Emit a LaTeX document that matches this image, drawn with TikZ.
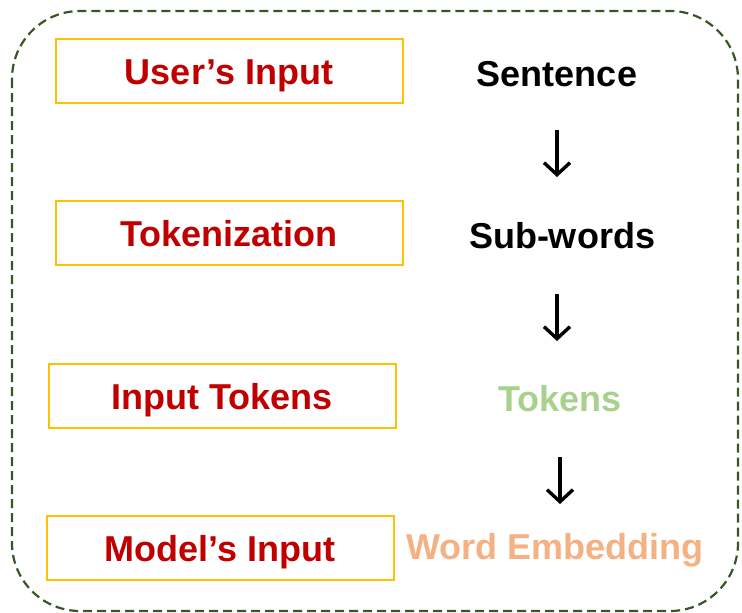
\documentclass[tikz,border=0pt]{standalone}
\usepackage{fontspec}
\setmainfont{Liberation Sans}
\usetikzlibrary{arrows.meta}
\definecolor{frameGreen}{HTML}{385723}
\definecolor{boxGold}{HTML}{FFC000}
\definecolor{labelRed}{HTML}{C00000}
\definecolor{tokGreen}{HTML}{A9D18E}
\definecolor{embOrange}{HTML}{F4B183}
\tikzset{
  stagebox/.style={draw=boxGold, line width=2pt, minimum width=347pt, minimum height=64pt,
    inner sep=0pt, text height=26pt, text depth=0pt, text=labelRed,
    font=\fontsize{36}{40}\selectfont\bfseries},
  outlabel/.style={inner sep=0pt, text height=26pt, text depth=0pt,
    font=\fontsize{36}{40}\selectfont\bfseries},
  flowarrow/.style={line width=3.6pt, -{Straight Barb[length=12pt, width=26pt, line width=3.4pt]}},
}
\begin{document}
\begin{tikzpicture}[x=1pt, y=-1pt]
\useasboundingbox (0,0) rectangle (742,613);
% outer dashed frame
\draw[frameGreen, line width=2.2pt, dash pattern=on 9pt off 5pt, rounded corners=68pt]
  (12,11) rectangle (738,611);

% left column: stages
\node[stagebox] (user)  at (229,71)  {User’s Input};
\node[stagebox] (tok)   at (229,233) {Tokenization};
\node[stagebox] (inp)   at (222,396) {Input Tokens};
\node[stagebox] (model) at (220,548) {Model’s Input};

% right column: data forms
\node[outlabel] (sent)  at (557,73)  {Sentence};
\node[outlabel] (sub)   at (562,235) {Sub-words};
\node[outlabel, text=tokGreen] (toks) at (560,398) {Tokens};
\node[outlabel, text=embOrange] (emb) at (555,546) {Word Embedding};

% arrows between data forms
\coordinate (a1s) at (557,130); \coordinate (a1e) at (557,177);
\coordinate (a2s) at (557,294); \coordinate (a2e) at (557,341);
\coordinate (a3s) at (560,457); \coordinate (a3e) at (560,504);
\draw[flowarrow] (a1s) -- (a1e);
\draw[flowarrow] (a2s) -- (a2e);
\draw[flowarrow] (a3s) -- (a3e);
\end{tikzpicture}
\end{document}
